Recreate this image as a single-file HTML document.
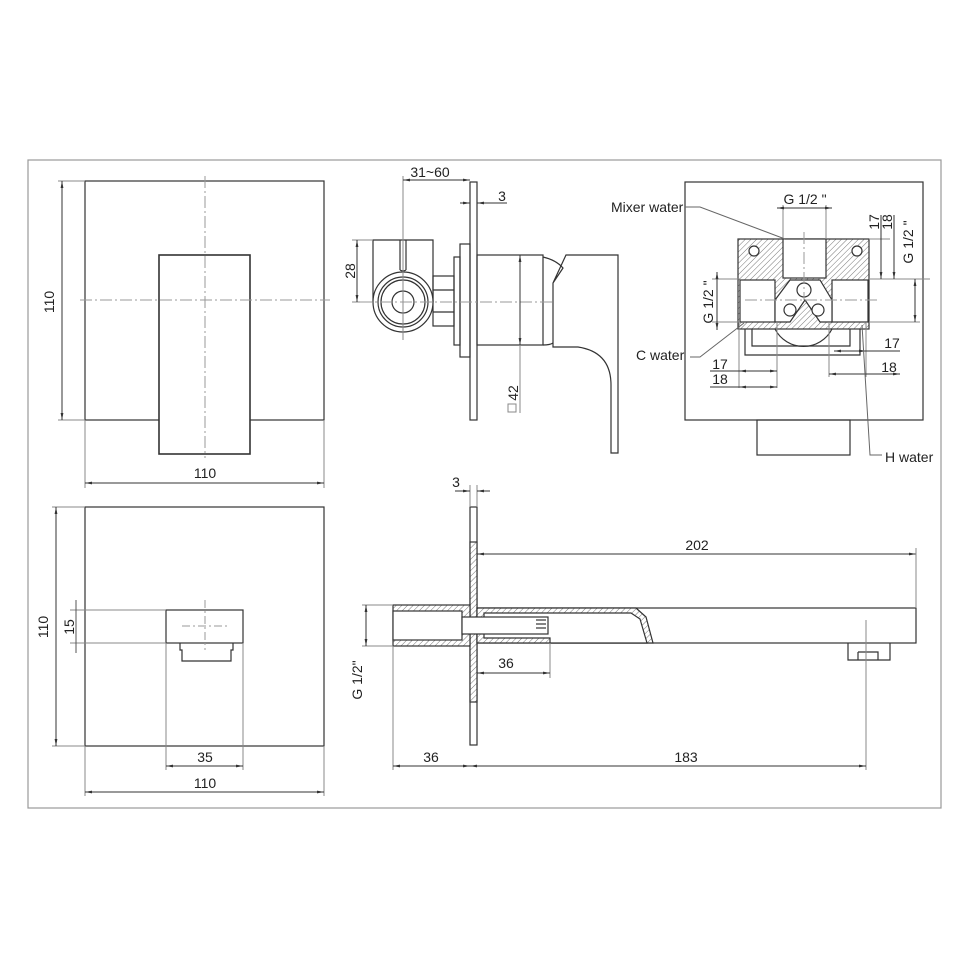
<!DOCTYPE html>
<html><head><meta charset="utf-8"><style>
html,body{margin:0;padding:0;background:#fff}
svg{display:block}
text{font-family:"Liberation Sans",sans-serif;font-size:14px;fill:#222}
</style></head><body>
<svg width="970" height="970" viewBox="0 0 970 970" xmlns="http://www.w3.org/2000/svg">
<defs>
<pattern id="h" width="4" height="4" patternUnits="userSpaceOnUse" patternTransform="rotate(45)">
<rect width="4" height="4" fill="#fff"/><line x1="0" y1="0" x2="0" y2="4" stroke="#777" stroke-width="1"/></pattern>
<marker id="a" viewBox="0 0 10 10" refX="10" refY="5" markerWidth="7" markerHeight="7" orient="auto-start-reverse"><path d="M0,3 L10,5 L0,7z" fill="#333"/></marker>
</defs>
<g fill="none" stroke="#333" stroke-width="1.2">
<rect x="28" y="160" width="913" height="648" stroke="#999"/>

<rect x="85" y="181" width="239" height="239" fill="#fff"/>
<rect x="159" y="255" width="91" height="199" fill="#fff" stroke-width="1.6"/>
<line x1="205" y1="176" x2="205" y2="458" stroke="#999" stroke-width="1" stroke-dasharray="12 3 2 3"/>
<line x1="80" y1="300" x2="330" y2="300" stroke="#999" stroke-width="1" stroke-dasharray="12 3 2 3"/>
<g stroke-width="1">
<line x1="58" y1="181" x2="85" y2="181" stroke="#888"/><line x1="58" y1="420" x2="85" y2="420" stroke="#888"/>
<line x1="62" y1="181" x2="62" y2="420" marker-start="url(#a)" marker-end="url(#a)"/>
<line x1="85" y1="420" x2="85" y2="488" stroke="#888"/><line x1="324" y1="420" x2="324" y2="488" stroke="#888"/>
<line x1="85" y1="483" x2="324" y2="483" marker-start="url(#a)" marker-end="url(#a)"/>
</g>

<rect x="470" y="182" width="7" height="238" fill="#fff"/>
<rect x="460" y="244" width="10" height="113"/>
<rect x="454" y="257" width="6" height="88"/>
<rect x="433" y="276" width="21" height="50"/>
<line x1="433" y1="290" x2="454" y2="290"/><line x1="433" y1="312" x2="454" y2="312"/>
<path d="M373,302 L373,240 L433,240 L433,302"/>
<circle cx="403" cy="302" r="30" fill="#fff"/>
<circle cx="403" cy="302" r="25"/><circle cx="403" cy="302" r="22"/>
<circle cx="403" cy="302" r="11"/>
<path d="M400,240 L400,270 M406,240 L406,270 M400,270 A6,6 0 0 0 406,270"/>
<rect x="477" y="255" width="66" height="90"/>
<path d="M543,257 Q556,260 563,268 L553,283 L553,347 L578,347 Q611,352 611,385 L611,453 L618,453 L618,255 L566,255 L553,283"/>
<path d="M543,345 Q550,345 553,343"/>
<g stroke-width="1">
<line x1="403" y1="176" x2="403" y2="340" stroke="#888"/>
<line x1="403" y1="180" x2="470" y2="180" marker-start="url(#a)" marker-end="url(#a)"/>
<line x1="460" y1="203" x2="470" y2="203" marker-end="url(#a)"/><line x1="477" y1="203" x2="507" y2="203" marker-start="url(#a)"/>
<line x1="352" y1="240" x2="373" y2="240" stroke="#888"/><line x1="352" y1="302" x2="373" y2="302" stroke="#888"/>
<line x1="357" y1="240" x2="357" y2="302" marker-start="url(#a)" marker-end="url(#a)"/>
<line x1="360" y1="302" x2="555" y2="302" stroke="#999" stroke-dasharray="12 3 2 3"/>
<line x1="520" y1="255" x2="520" y2="345" marker-start="url(#a)" marker-end="url(#a)"/>
<line x1="520" y1="345" x2="520" y2="413" stroke="#888"/>
<rect x="508" y="404" width="8" height="8" stroke="#888"/>
</g>

<rect x="685" y="182" width="238" height="238" fill="#fff"/>
<rect x="757" y="420" width="93" height="35"/>
<path d="M745,329 L745,355 L860,355 L860,329 M752,329 L752,346 L850,346 L850,329"/>
<path d="M775,329 A32,32 0 0 0 832,329"/>
<rect x="738" y="239" width="131" height="90" fill="url(#h)"/>
<rect x="783" y="239" width="43" height="39" fill="#fff"/>
<rect x="740" y="280" width="35" height="42" fill="#fff"/>
<rect x="832" y="280" width="36" height="42" fill="#fff"/>
<path d="M775,300 L790,280 L820,280 L832,300 L832,322 L820,322 L805,300 L790,322 L775,322 Z" fill="#fff"/>
<circle cx="804" cy="290" r="7" fill="#fff"/>
<circle cx="790" cy="310" r="6" fill="#fff"/><circle cx="818" cy="310" r="6" fill="#fff"/>
<circle cx="754" cy="251" r="5" fill="#fff"/><circle cx="857" cy="251" r="5" fill="#fff"/>
<g stroke-width="1">
<line x1="745" y1="300" x2="880" y2="300" stroke="#999" stroke-dasharray="12 3 2 3"/>
<line x1="804" y1="232" x2="804" y2="300" stroke="#999" stroke-dasharray="12 3 2 3"/>
<line x1="783" y1="205" x2="783" y2="239" stroke="#888"/><line x1="826" y1="205" x2="826" y2="239" stroke="#888"/>
<line x1="777" y1="208" x2="832" y2="208" marker-start="url(#a)" marker-end="url(#a)"/>
<line x1="869" y1="239" x2="890" y2="239" stroke="#888"/><line x1="869" y1="279" x2="930" y2="279" stroke="#888"/>
<line x1="881" y1="215" x2="881" y2="279" marker-end="url(#a)"/><line x1="894" y1="215" x2="894" y2="279" marker-end="url(#a)"/>
<line x1="869" y1="322" x2="920" y2="322" stroke="#888"/>
<line x1="915" y1="279" x2="915" y2="322" marker-start="url(#a)" marker-end="url(#a)"/>
<line x1="712" y1="279" x2="740" y2="279" stroke="#888"/><line x1="712" y1="322" x2="740" y2="322" stroke="#888"/>
<line x1="717" y1="272" x2="717" y2="330" marker-start="url(#a)" marker-end="url(#a)"/>
<line x1="739" y1="322" x2="739" y2="388" stroke="#888"/><line x1="777" y1="322" x2="777" y2="388" stroke="#888"/>
<line x1="710" y1="371" x2="777" y2="371" marker-end="url(#a)"/><line x1="739" y1="371" x2="742" y2="371" marker-start="url(#a)"/>
<line x1="710" y1="387" x2="777" y2="387" marker-end="url(#a)"/><line x1="739" y1="387" x2="742" y2="387" marker-start="url(#a)"/>
<line x1="829" y1="322" x2="829" y2="377" stroke="#888"/><line x1="866" y1="322" x2="866" y2="377" stroke="#888"/>
<line x1="834" y1="351" x2="900" y2="351" marker-start="url(#a)"/><line x1="863" y1="351" x2="866" y2="351" marker-end="url(#a)"/>
<line x1="829" y1="374" x2="900" y2="374" marker-start="url(#a)" marker-end="url(#a)"/>
<path d="M685,207 L700,207 L785,239" stroke="#666"/>
<path d="M690,357 L700,357 L744,323" stroke="#666"/>
<path d="M862,325 L870,455 L882,455" stroke="#666"/>
</g>

<rect x="85" y="507" width="239" height="239"/>
<rect x="166" y="610" width="77" height="33"/>
<path d="M180,643 L180,650 L182,650 L182,661 L231,661 L231,650 L233,650 L233,643"/>
<g stroke-width="1">
<line x1="205" y1="600" x2="205" y2="650" stroke="#999" stroke-dasharray="8 3 2 3"/>
<line x1="182" y1="626" x2="228" y2="626" stroke="#999" stroke-dasharray="8 3 2 3"/>
<line x1="70" y1="610" x2="166" y2="610" stroke="#888"/><line x1="70" y1="643" x2="166" y2="643" stroke="#888"/>
<line x1="76" y1="600" x2="76" y2="653" stroke="#555"/>
<line x1="52" y1="507" x2="85" y2="507" stroke="#888"/><line x1="52" y1="746" x2="85" y2="746" stroke="#888"/>
<line x1="56" y1="507" x2="56" y2="746" marker-start="url(#a)" marker-end="url(#a)"/>
<line x1="166" y1="643" x2="166" y2="770" stroke="#888"/><line x1="243" y1="643" x2="243" y2="770" stroke="#888"/>
<line x1="166" y1="766" x2="243" y2="766" marker-start="url(#a)" marker-end="url(#a)"/>
<line x1="85" y1="746" x2="85" y2="796" stroke="#888"/><line x1="324" y1="746" x2="324" y2="796" stroke="#888"/>
<line x1="85" y1="792" x2="324" y2="792" marker-start="url(#a)" marker-end="url(#a)"/>
</g>

<rect x="470" y="507" width="7" height="238" fill="#fff"/>
<rect x="470" y="542" width="7" height="160" fill="url(#h)"/>
<rect x="393" y="605" width="77" height="41" fill="url(#h)"/>
<rect x="393" y="611" width="69" height="29" fill="#fff"/>
<rect x="477" y="608" width="439" height="35"/>
<path d="M477,608 L636,608 L646,617 L653,643 L477,643 Z" fill="url(#h)"/>
<path d="M484,613 L631,613 L640,619 L647,643 L550,643 L550,638 L484,638 Z" fill="#fff"/>
<rect x="462" y="617" width="86" height="17" fill="#fff"/>
<line x1="536" y1="620" x2="546" y2="620"/><line x1="536" y1="624" x2="546" y2="624"/><line x1="536" y1="628" x2="546" y2="628"/>
<path d="M848,643 L848,660 L890,660 L890,643 M858,652 L878,652 L878,660 M858,652 L858,660"/>
<g stroke-width="1">
<line x1="866" y1="620" x2="866" y2="770" stroke="#888"/>
<line x1="470" y1="485" x2="470" y2="507" stroke="#888"/><line x1="477" y1="485" x2="477" y2="507" stroke="#888"/>
<line x1="455" y1="491" x2="470" y2="491" marker-end="url(#a)"/><line x1="477" y1="491" x2="490" y2="491" marker-start="url(#a)"/>
<line x1="477" y1="554" x2="916" y2="554" marker-start="url(#a)" marker-end="url(#a)"/>
<line x1="916" y1="548" x2="916" y2="608" stroke="#888"/>
<line x1="550" y1="643" x2="550" y2="678" stroke="#888"/>
<line x1="477" y1="673" x2="550" y2="673" marker-start="url(#a)" marker-end="url(#a)"/>
<line x1="362" y1="605" x2="393" y2="605" stroke="#888"/><line x1="362" y1="646" x2="393" y2="646" stroke="#888"/>
<line x1="366" y1="605" x2="366" y2="646" marker-start="url(#a)" marker-end="url(#a)"/>
<line x1="393" y1="646" x2="393" y2="770" stroke="#888"/>
<line x1="393" y1="766" x2="470" y2="766" marker-start="url(#a)" marker-end="url(#a)"/>
<line x1="470" y1="766" x2="866" y2="766" marker-start="url(#a)" marker-end="url(#a)"/>
</g>
</g>
<g>
<text x="54" y="302" transform="rotate(-90 54 302)" text-anchor="middle">110</text>
<text x="205" y="478" text-anchor="middle">110</text>
<text x="430" y="177" text-anchor="middle">31~60</text>
<text x="502" y="201" text-anchor="middle">3</text>
<text x="355" y="271" transform="rotate(-90 355 271)" text-anchor="middle">28</text>
<text x="518" y="393" transform="rotate(-90 518 393)" text-anchor="middle">42</text>
<text x="611" y="212">Mixer water</text>
<text x="805" y="204" text-anchor="middle">G 1/2 "</text>
<text x="879" y="222" transform="rotate(-90 879 222)" text-anchor="middle">17</text>
<text x="892" y="222" transform="rotate(-90 892 222)" text-anchor="middle">18</text>
<text x="913" y="242" transform="rotate(-90 913 242)" text-anchor="middle">G 1/2 "</text>
<text x="713" y="302" transform="rotate(-90 713 302)" text-anchor="middle">G 1/2 "</text>
<text x="636" y="360">C water</text>
<text x="720" y="369" text-anchor="middle">17</text>
<text x="720" y="384" text-anchor="middle">18</text>
<text x="892" y="348" text-anchor="middle">17</text>
<text x="889" y="372" text-anchor="middle">18</text>
<text x="885" y="462">H water</text>
<text x="48" y="627" transform="rotate(-90 48 627)" text-anchor="middle">110</text>
<text x="74" y="627" transform="rotate(-90 74 627)" text-anchor="middle">15</text>
<text x="205" y="762" text-anchor="middle">35</text>
<text x="205" y="788" text-anchor="middle">110</text>
<text x="456" y="487" text-anchor="middle">3</text>
<text x="697" y="550" text-anchor="middle">202</text>
<text x="506" y="668" text-anchor="middle">36</text>
<text x="362" y="680" transform="rotate(-90 362 680)" text-anchor="middle">G 1/2"</text>
<text x="431" y="762" text-anchor="middle">36</text>
<text x="686" y="762" text-anchor="middle">183</text>
</g>
</svg>
</body></html>
